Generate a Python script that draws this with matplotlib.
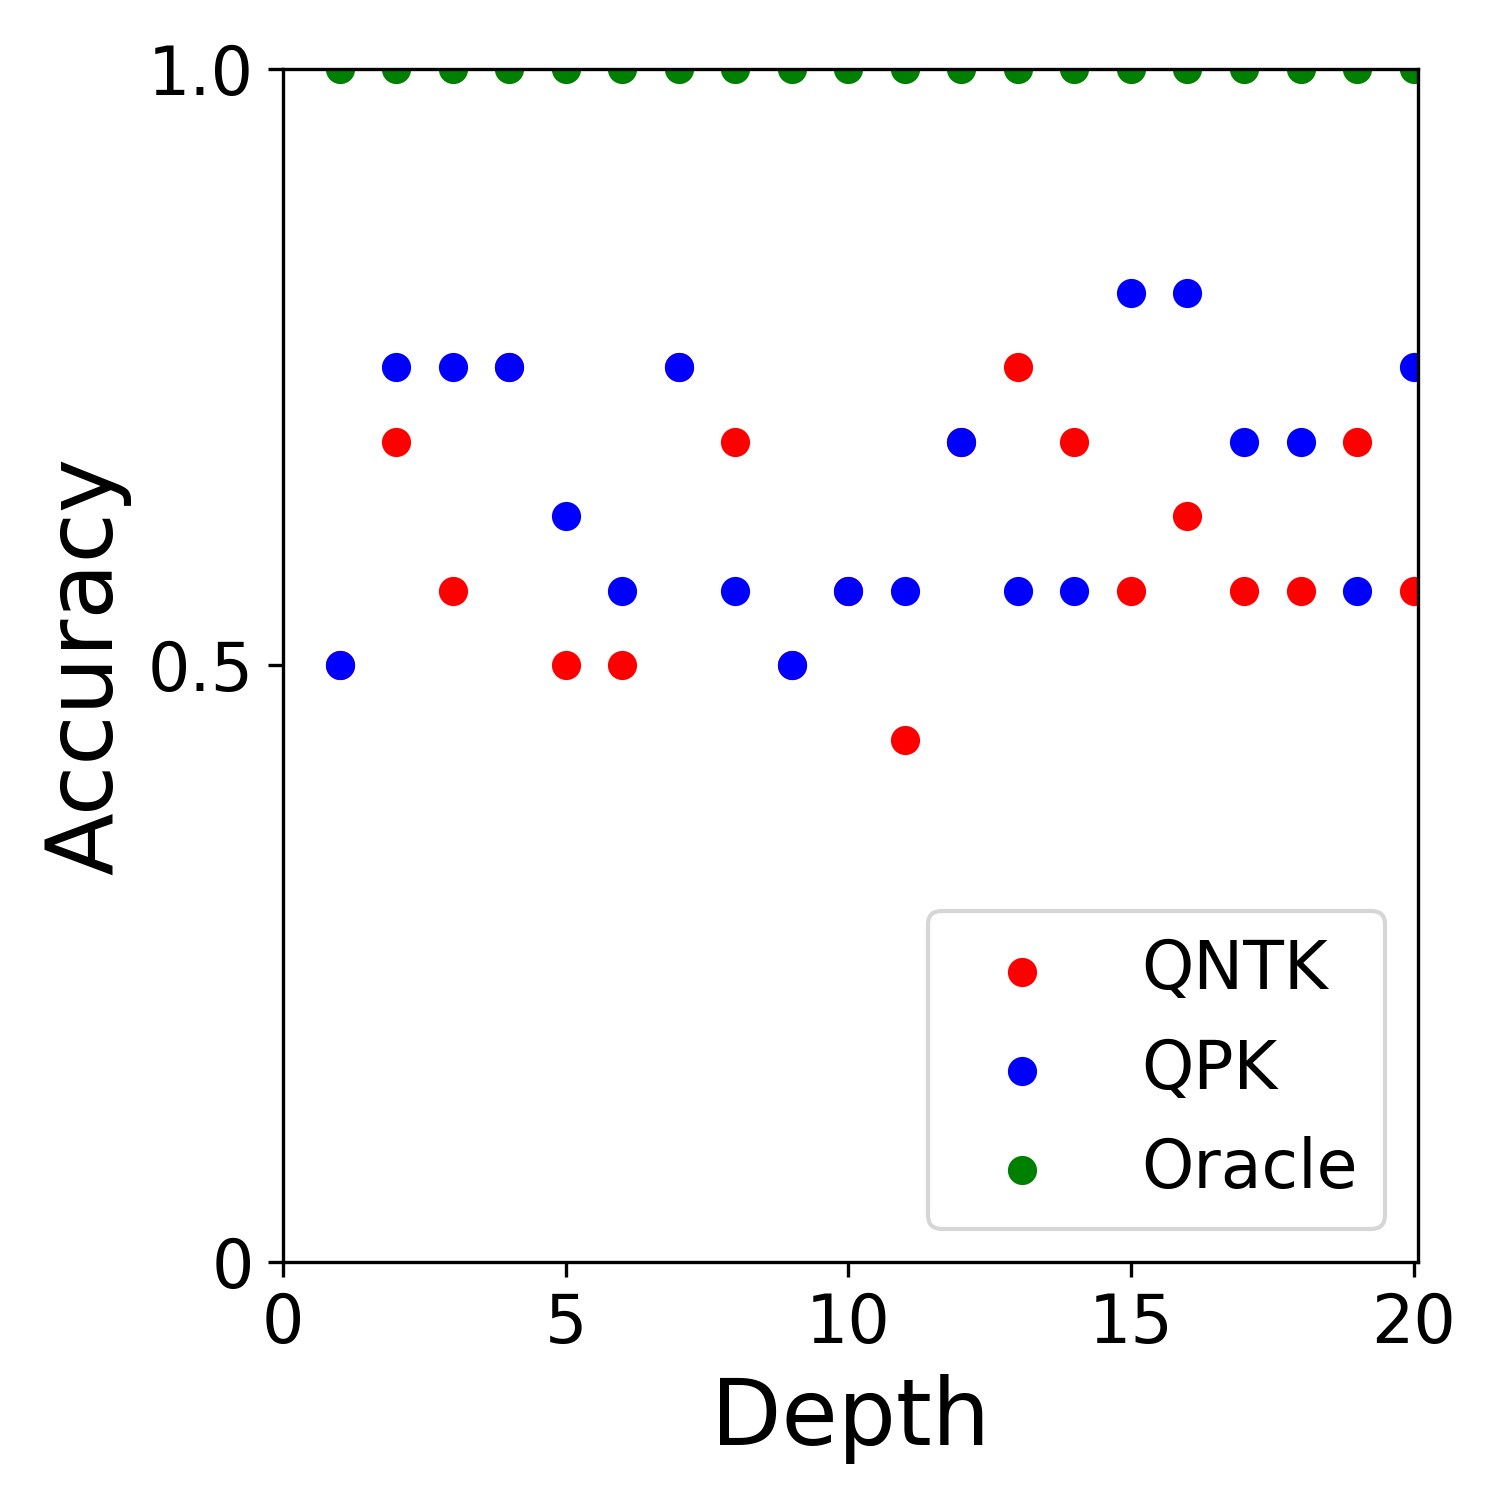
import matplotlib
matplotlib.use("Agg")
import matplotlib.pyplot as plt

depth = list(range(1, 21))
# accuracy values (multiples of 1/16); red points hidden under blue ones are set equal
qntk = [0.5, 0.6875, 0.5625, 0.75, 0.5, 0.5, 0.75, 0.6875, 0.5, 0.5625,
        0.4375, 0.6875, 0.75, 0.6875, 0.5625, 0.625, 0.5625, 0.5625, 0.6875, 0.5625]
qpk = [0.5, 0.75, 0.75, 0.75, 0.625, 0.5625, 0.75, 0.5625, 0.5, 0.5625,
       0.5625, 0.6875, 0.5625, 0.5625, 0.8125, 0.8125, 0.6875, 0.6875, 0.5625, 0.75]
oracle = [1.0] * 20

fig = plt.figure(figsize=(5, 5), dpi=300)
ax = fig.add_axes([0.1887, 0.1587, 0.7567, 0.7953])
ax.scatter(depth, qntk, color="red", label="QNTK")
ax.scatter(depth, qpk, color="blue", label="QPK")
ax.scatter(depth, oracle, color="green", label="Oracle")

ax.set_xlim(0, 20.08)
ax.set_ylim(0, 1)
ax.set_xticks([0, 5, 10, 15, 20])
ax.set_yticks([0, 0.5, 1.0])
ax.set_yticklabels(["0", "0.5", "1.0"])
ax.tick_params(labelsize=16)
ax.set_xlabel("Depth", fontsize=22)
ax.set_ylabel("Accuracy", fontsize=22)
ax.legend(loc="lower right", fontsize=16)

fig.savefig("out.png")
